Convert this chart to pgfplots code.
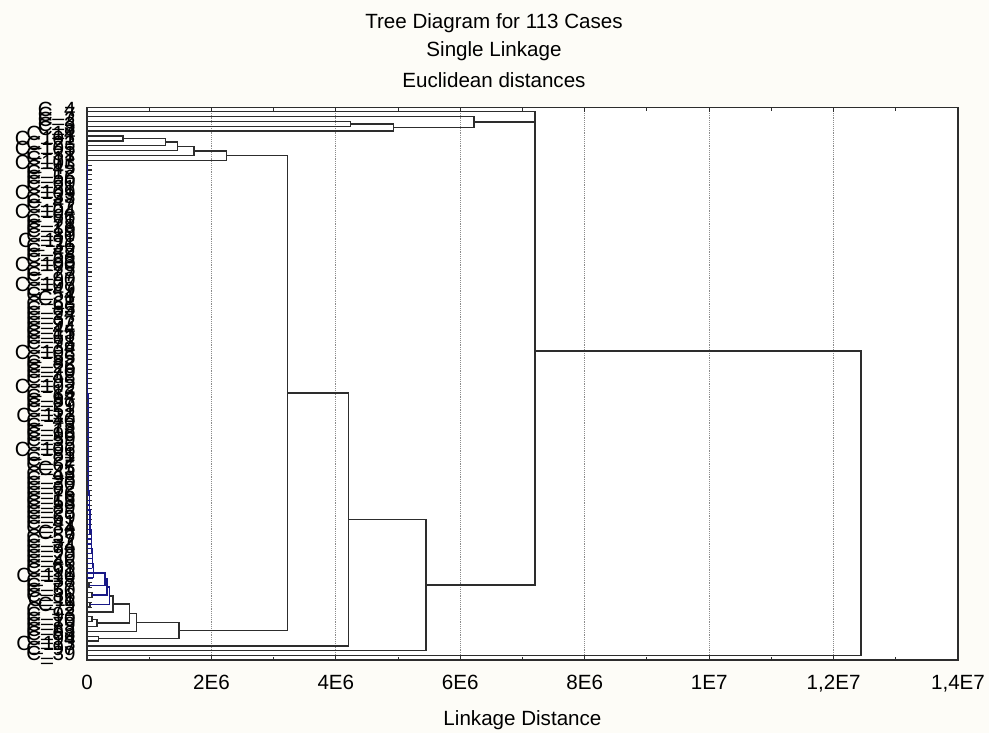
\documentclass[border=0pt]{standalone}
\usepackage{pgfplots}
\pgfplotsset{compat=1.18}
\usepackage{fontspec}
\setmainfont{Liberation Sans}
\definecolor{treeline}{RGB}{45,45,45}
\definecolor{navyline}{RGB}{25,25,135}
\definecolor{paper}{RGB}{253,252,247}

\begin{document}
\begin{tikzpicture}
\fill[paper] (-65.25bp,-54.75bp) rectangle (676.5bp,495bp);
\path[use as bounding box] (-65.25bp,-54.75bp) rectangle (676.5bp,495bp);
\begin{axis}[
    at={(0,0)}, anchor=south west,
    scale only axis, width=653.25bp, height=414.5bp,
    axis background/.style={fill=white},
    xmin=0, xmax=14, ymin=0.1, ymax=113.9,
    y dir=reverse,
    xtick={0,2,...,14},
    xticklabels={0,2E6,4E6,6E6,8E6,1E7,{1,2E7},{1,4E7}},
    minor x tick num=1,
    ytick={1,...,113},
    yticklabels={C\_4,C\_7,C\_2,C\_3,C\_8,C\_14,C\_101,C\_23,C\_105,C\_31,
        C\_17,C\_103,C\_45,C\_12,C\_56,C\_60,C\_21,C\_109,C\_33,C\_47,
        C\_52,C\_104,C\_66,C\_71,C\_28,C\_19,C\_80,C\_111,C\_36,C\_42,
        C\_58,C\_63,C\_100,C\_75,C\_27,C\_90,C\_107,C\_49,C\_54,C\_1,
        C\_68,C\_85,C\_24,C\_37,C\_92,C\_44,C\_15,C\_61,C\_78,C\_34,
        C\_108,C\_55,C\_82,C\_26,C\_70,C\_48,C\_95,C\_102,C\_13,C\_64,
        C\_87,C\_29,C\_51,C\_112,C\_40,C\_73,C\_18,C\_96,C\_59,C\_35,
        C\_106,C\_81,C\_22,C\_67,C\_5,C\_43,C\_98,C\_30,C\_62,C\_76,
        C\_16,C\_53,C\_89,C\_25,C\_69,C\_41,C\_84,C\_6,C\_57,C\_32,
        C\_74,C\_99,C\_20,C\_46,C\_65,C\_91,C\_110,C\_38,C\_77,C\_50,
        C\_86,C\_11,C\_9,C\_72,C\_93,C\_10,C\_79,C\_83,C\_88,C\_94,
        C\_113,C\_97,C\_39},
    ytick pos=left,
    major tick length=3.5bp, minor tick length=2.5bp,
    xmajorgrids,
    grid style={densely dotted, black!45, line width=0.6bp},
    axis line style={treeline, line width=1bp},
    tick style={treeline, line width=0.8bp},
    tick label style={font=\fontsize{15.5}{18}\selectfont},
    typeset ticklabels with strut,
    yticklabel style={xshift=-5bp},
    xticklabel style={yshift=-6bp},
    unbounded coords=jump,
]
% merges: child a -> height -> child b
\addplot[treeline, line width=1bp] coordinates {
    (0,3)(4.23,3)(4.23,4)(0,4) (nan,nan)
    (4.23,3.5)(4.93,3.5)(4.93,5)(0,5) (nan,nan)
    (0,2)(6.22,2)(6.22,4.25)(4.93,4.25) (nan,nan)
    (6.22,3.125)(7.2,3.125) (nan,nan)
    (0,1)(7.2,1)(7.2,98.48)(5.45,98.48) (nan,nan)
    (0,6)(0.58,6)(0.58,7)(0,7) (nan,nan)
    (0.58,6.5)(1.26,6.5)(1.26,8)(0,8) (nan,nan)
    (1.26,7.25)(1.45,7.25)(1.45,9)(0,9) (nan,nan)
    (1.45,8.125)(1.72,8.125)(1.72,10)(0,10) (nan,nan)
    (1.72,9.0625)(2.24,9.0625)(2.24,11)(0,11) (nan,nan)
    (0,98)(0.03,98)(0.03,99)(0,99) (nan,nan)
    (0,100)(0.08,100)(0.08,101)(0,101) (nan,nan)
    (0,102)(0.05,102)(0.05,103)(0,103) (nan,nan)
    (0.36,100.69)(0.42,100.69)(0.42,104)(0,104) (nan,nan)
    (0,105)(0.08,105)(0.08,106)(0,106) (nan,nan)
    (0.08,105.5)(0.16,105.5)(0.16,107)(0,107) (nan,nan)
    (0.42,102.34)(0.68,102.34)(0.68,106.25)(0.16,106.25) (nan,nan)
    (0.68,104.3)(0.8,104.3)(0.8,108)(0,108) (nan,nan)
    (0,109)(0.18,109)(0.18,110)(0,110) (nan,nan)
    (0.8,106.15)(1.48,106.15)(1.48,109.5)(0.18,109.5) (nan,nan)
    (2.24,10.03)(3.22,10.03)(3.22,107.83)(1.48,107.83) (nan,nan)
    (3.22,58.93)(4.2,58.93)(4.2,111)(0,111) (nan,nan)
    (4.2,84.96)(5.45,84.96)(5.45,112)(0,112) (nan,nan)
    (7.2,50.27)(12.44,50.27)(12.44,113)(0,113)
};
% close cases: leaf lines
\addplot[navyline, line width=1bp, xcomb] coordinates {
    (0.003,12)(0.003,13)(0.003,14)(0.003,15)(0.003,16)(0.003,17)
    (0.003,18)(0.003,19)(0.003,20)(0.003,21)(0.003,22)(0.003,23)
    (0.003,24)(0.003,25)(0.003,26)(0.003,27)(0.003,28)(0.003,29)
    (0.006,30)(0.006,31)(0.006,32)(0.006,33)(0.006,34)(0.006,35)
    (0.006,36)(0.006,37)(0.006,38)(0.006,39)(0.006,40)(0.006,41)
    (0.006,42)(0.006,43)(0.006,44)(0.006,45)
    (0.012,46)(0.012,47)(0.012,48)(0.012,49)(0.012,50)(0.012,51)
    (0.012,52)(0.012,53)(0.012,54)(0.012,55)(0.012,56)(0.012,57)
    (0.012,58)(0.012,59)(0.012,60)
    (0.02,61)(0.02,62)(0.02,63)(0.02,64)(0.02,65)(0.02,66)(0.02,67)
    (0.02,68)(0.02,69)(0.02,70)(0.02,71)(0.02,72)(0.02,73)(0.02,74)
    (0.02,75)
    (0.025,76)(0.025,77)(0.025,78)(0.025,79)(0.025,80)
    (0.035,81)(0.035,82)(0.035,83)(0.035,84)
    (0.05,85)(0.05,86)(0.05,87)(0.05,88)
    (0.07,89)(0.07,90)(0.07,91)(0.07,92)
    (0.085,93)(0.085,94)(0.085,95)
    (0.1,96)(0.1,97)
};
% close cases: chaining
\addplot[navyline, line width=1bp] coordinates {
    (0.003,12)(0.003,29)(0.003,28)(0.006,28)(0.006,45)(0.006,44)
    (0.012,44)(0.012,60)(0.012,59)(0.02,59)(0.02,75)(0.02,74)
    (0.025,74)(0.025,80)(0.025,79)(0.035,79)(0.035,84)(0.035,83)
    (0.05,83)(0.05,88)(0.05,87)(0.07,87)(0.07,92)(0.07,91)
    (0.085,91)(0.085,95)(0.085,94)(0.1,94)(0.1,97) (nan,nan)
    (0.1,96)(0.29,96)(0.29,98.5)(0.03,98.5) (nan,nan)
    (0.29,97.25)(0.32,97.25)(0.32,100.5)(0.08,100.5) (nan,nan)
    (0.32,98.875)(0.36,98.875)(0.36,102.5)(0.05,102.5)
};
\end{axis}
\begin{scope}[font=\fontsize{15.5}{18}\selectfont]
\node[anchor=base] at (305.25bp,473.6bp) {Tree Diagram for 113 Cases};
\node[anchor=base] at (305.25bp,452.6bp) {Single Linkage};
\node[anchor=base] at (305.25bp,429.4bp) {Euclidean distances};
\node[anchor=base] at (326.6bp,-48.75bp) {Linkage Distance};
\end{scope}
\end{tikzpicture}
\end{document}
